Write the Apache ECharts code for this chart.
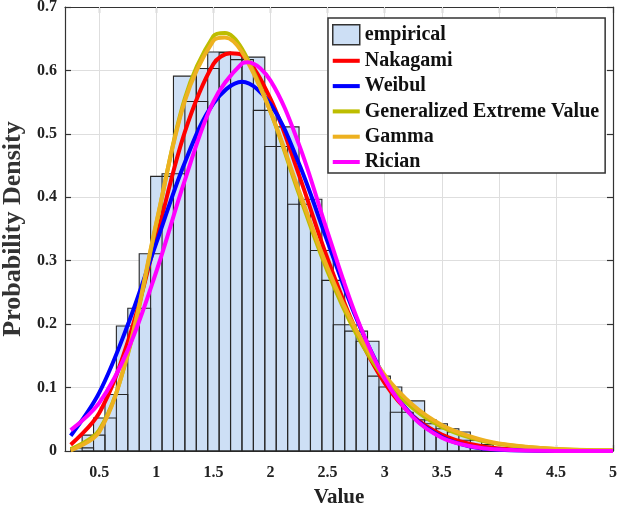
<!DOCTYPE html>
<html>
<head>
<meta charset="utf-8">
<script src="https://cdn.jsdelivr.net/npm/echarts@6/dist/echarts.min.js"></script>
<style>
html,body{margin:0;padding:0;background:#fff;}
#chart{width:618px;height:513px;}
</style>
</head>
<body>
<div id="chart"></div>
<script>
// ---------- data ----------
var binStart = [0.25,0.35,0.45,0.55,0.65,0.75,0.85,0.95,1.05,1.15,1.25,1.35,1.45,1.55,1.65,1.75,1.85,1.95,2.05,2.15,2.25,2.35,2.45,2.55,2.65,2.75,2.85,2.95,3.05,3.15,3.25,3.35,3.45,3.55,3.65,3.75,3.85,3.95];
var binHeight = [0.005,0.025,0.052,0.089,0.197,0.225,0.311,0.433,0.437,0.591,0.551,0.603,0.629,0.628,0.617,0.621,0.537,0.480,0.511,0.389,0.397,0.316,0.269,0.199,0.189,0.173,0.118,0.101,0.061,0.079,0.049,0.043,0.035,0.030,0.017,0.010,0.005,0.002];

var nakagamiX = [0.25,0.5,0.75,1.0,1.25,1.5,1.65,1.75,2.0,2.25,2.5,2.75,3.0,3.25,3.5,3.75,4.0,4.5,5.0];
var nakagamiY = [0.010,0.060,0.172,0.336,0.503,0.610,0.627,0.624,0.555,0.435,0.303,0.190,0.107,0.055,0.026,0.011,0.004,0.0005,0.0];

var weibulX = [0.25,0.5,0.75,1.0,1.25,1.5,1.75,2.0,2.25,2.5,2.75,3.0,3.25,3.5,3.75,4.0,4.5,5.0];
var weibulY = [0.024,0.092,0.199,0.328,0.455,0.548,0.582,0.547,0.453,0.330,0.210,0.116,0.054,0.022,0.007,0.002,0.0001,0.0];

var gevX = [0.25,0.5,0.75,1.0,1.25,1.5,1.6,1.75,2.0,2.25,2.5,2.75,3.0,3.25,3.5,3.75,4.0,4.5,5.0];
var gevY = [0.003,0.033,0.152,0.358,0.556,0.654,0.659,0.634,0.535,0.405,0.283,0.185,0.114,0.067,0.038,0.021,0.011,0.003,0.001];

var gammaX = [0.25,0.5,0.75,1.0,1.25,1.5,1.6,1.75,2.0,2.25,2.5,2.75,3.0,3.25,3.5,3.75,4.0,4.5,5.0];
var gammaY = [0.001,0.030,0.154,0.360,0.552,0.647,0.652,0.629,0.535,0.410,0.289,0.191,0.120,0.072,0.041,0.023,0.012,0.003,0.001];

var ricianX = [0.25,0.5,0.75,1.0,1.25,1.5,1.75,1.8,2.0,2.25,2.5,2.75,3.0,3.25,3.5,3.75,4.0,4.5,5.0];
var ricianY = [0.033,0.076,0.159,0.283,0.427,0.551,0.611,0.613,0.584,0.483,0.345,0.213,0.114,0.053,0.021,0.0075,0.0023,0.0001,0.0];

var xTicks = [0.5,1,1.5,2,2.5,3,3.5,4,4.5,5];
var seriesNames = ['Nakagami','Weibul','Generalized Extreme Value','Gamma','Rician'];
var seriesColors = ['#ff0000','#0000ff','#bdbd00','#edb120','#ff00ff'];

// ---------- build ----------
var BIN_W = 0.2;
var FILL = '#cddff5';
var EDGE = '#262626';
var FONT = 'Liberation Serif';

function zip(xs, ys){ return xs.map(function(x,i){ return [x, ys[i]]; }); }
var binData = binStart.map(function(x,i){ return [x, binHeight[i]]; });

function barRenderer(edgeOnly){
  return function(params, api){
    var x0 = api.value(0), h = api.value(1);
    var p0 = api.coord([x0, 0]);
    var p1 = api.coord([x0 + BIN_W, h]);
    return {
      type: 'rect',
      shape: {x: p0[0], y: p1[1], width: p1[0]-p0[0], height: p0[1]-p1[1]},
      style: edgeOnly ? {fill: 'rgba(0,0,0,0)', stroke: EDGE, lineWidth: 1.1}
                      : {fill: FILL, stroke: null}
    };
  };
}

var curves = [zip(nakagamiX,nakagamiY), zip(weibulX,weibulY), zip(gevX,gevY), zip(gammaX,gammaY), zip(ricianX,ricianY)];

var series = [
  {
    name: 'gridV', type: 'line', data: [], z: 1, silent: true,
    markLine: {
      silent: true, symbol: ['none','none'], z: 1, animation: false,
      label: {show: false},
      lineStyle: {color: '#dedede', width: 1, type: 'solid'},
      emphasis: {disabled: true},
      data: xTicks.slice(0, xTicks.length-1).map(function(v){ return {xAxis: v}; })
    }
  },
  {
    name: 'empirical', type: 'custom', renderItem: barRenderer(false),
    data: binData, encode: {x: 0, y: 1}, z: 2, itemStyle: {color: FILL}, silent: true
  },
  {
    name: 'edges', type: 'custom', renderItem: barRenderer(true),
    data: binData, encode: {x: 0, y: 1}, z: 2, silent: true
  }
];
curves.forEach(function(d, i){
  series.push({
    name: seriesNames[i], type: 'line', data: d, smooth: 0.35,
    showSymbol: false, symbol: 'none', z: 3 + i, silent: true,
    itemStyle: {color: seriesColors[i]},
    lineStyle: {color: seriesColors[i], width: 4}
  });
});

var lineIcon = 'path://M0,0L30,0L30,4.5L0,4.5Z';
var legendData = [{name: 'empirical', icon: 'rect', itemStyle: {color: FILL, borderColor: '#333', borderWidth: 1.5}}];
seriesNames.forEach(function(n){ legendData.push({name: n, icon: lineIcon}); });

var axisLineStyle = {color: '#333', width: 1.2};
var option = {
  animation: false,
  grid: {left: 65, right: 5, top: 7, bottom: 62, containLabel: false, outerBoundsMode: 'none'},
  legend: {
    orient: 'vertical', left: 328, top: 18,
    data: legendData,
    itemWidth: 27, itemHeight: 20, itemGap: 5.3,
    padding: [6, 6, 1, 4],
    backgroundColor: '#fff', borderColor: '#333', borderWidth: 1.5,
    symbolKeepAspect: true, selectedMode: false,
    textStyle: {fontFamily: FONT, fontWeight: 'bold', fontSize: 20, color: '#111'}
  },
  xAxis: [
    {
      type: 'value', min: 0.2, max: 5, position: 'bottom',
      name: 'Value', nameLocation: 'middle', nameGap: 36,
      nameTextStyle: {fontFamily: FONT, fontSize: 21, fontWeight: 'bold', color: '#222'},
      axisLine: {show: true, onZero: false, lineStyle: axisLineStyle},
      axisTick: {show: true, inside: true, length: 6, customValues: xTicks, lineStyle: axisLineStyle},
      axisLabel: {show: true, customValues: xTicks, margin: 14, fontFamily: FONT, fontWeight: 'bold', fontSize: 16, color: '#222'},
      splitLine: {show: false}
    },
    {
      type: 'value', min: 0.2, max: 5, position: 'top',
      axisLine: {show: true, onZero: false, lineStyle: axisLineStyle},
      axisTick: {show: true, inside: true, length: 6, customValues: xTicks, lineStyle: axisLineStyle},
      axisLabel: {show: false},
      splitLine: {show: false}
    }
  ],
  yAxis: [
    {
      type: 'value', min: 0, max: 0.7, interval: 0.1, position: 'left',
      name: 'Probability Density', nameLocation: 'middle', nameGap: 33, nameRotate: 90,
      nameTextStyle: {fontFamily: FONT, fontSize: 26, fontWeight: 'bold', color: '#333'},
      axisLine: {show: true, onZero: false, lineStyle: axisLineStyle},
      axisTick: {show: true, inside: true, length: 6, lineStyle: axisLineStyle},
      axisLabel: {show: true, margin: 8, fontFamily: FONT, fontWeight: 'bold', fontSize: 16, color: '#222',
        formatter: function(v){ return String(Math.round(v*10)/10); }},
      splitLine: {show: true, lineStyle: {color: '#dedede', width: 1}}
    },
    {
      type: 'value', min: 0, max: 0.7, interval: 0.1, position: 'right',
      axisLine: {show: true, onZero: false, lineStyle: axisLineStyle},
      axisTick: {show: true, inside: true, length: 6, lineStyle: axisLineStyle},
      axisLabel: {show: false},
      splitLine: {show: false}
    }
  ],
  series: series
};

var chart = echarts.init(document.getElementById('chart'), null, {renderer: 'canvas'});
chart.setOption(option);
</script>
</body>
</html>
